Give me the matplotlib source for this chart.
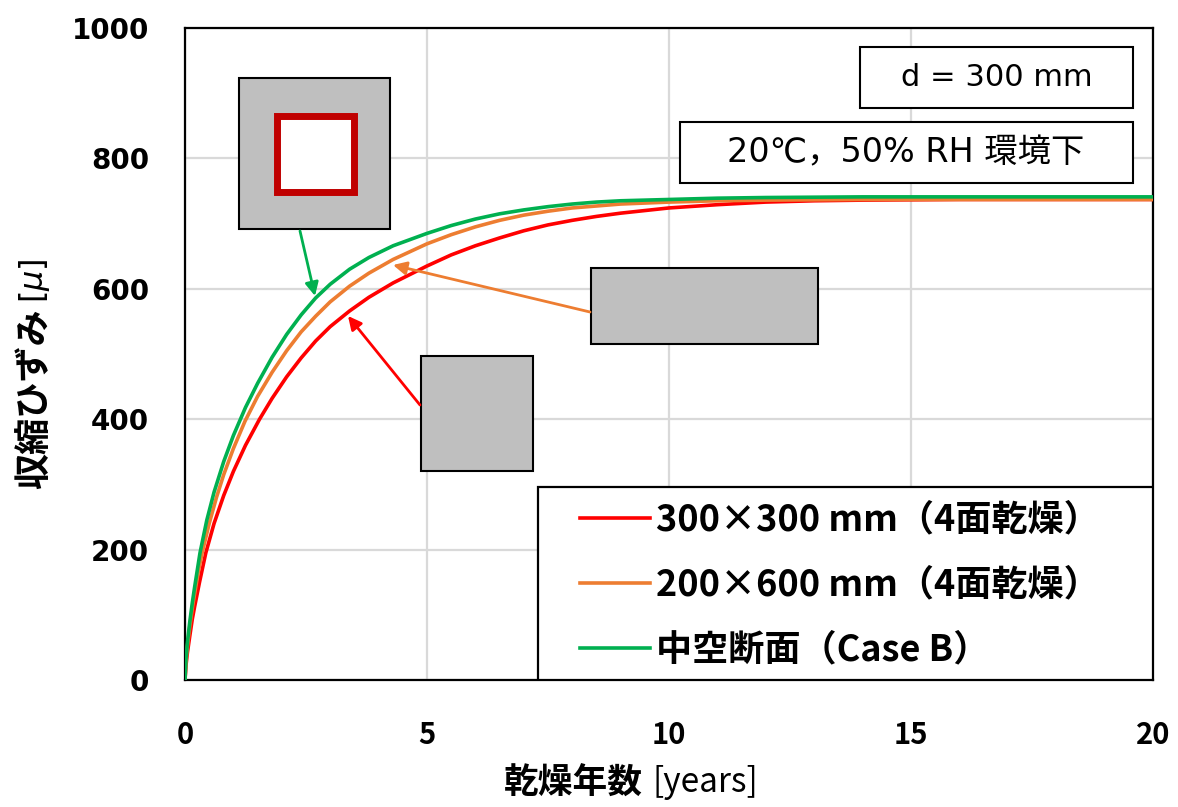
import matplotlib
matplotlib.use("Agg")
import matplotlib.pyplot as plt
from matplotlib.patches import Rectangle

plt.rcParams['font.family'] = ['DejaVu Sans', 'Noto Sans CJK JP']

# 乾燥収縮ひずみの経時変化 (d = 300 mm)
t_red = [0, 0.02, 0.05, 0.1, 0.15, 0.2, 0.3, 0.43, 0.6, 0.8, 1.0, 1.25, 1.54,
         1.8, 2.1, 2.4, 2.7, 3.0, 3.4, 3.8, 4.3, 5.0, 5.5, 6.0, 6.5, 7.0, 7.5,
         8.0, 8.5, 9.0, 10.0, 11.0, 12.0, 13.0, 14.0, 16.0, 20.0]
eps_red = [0, 22, 42, 68, 93, 113, 150, 195, 240, 283, 320, 360, 400,
           432, 465, 494, 520, 542, 566, 587, 609, 635, 652, 666, 678, 689, 698,
           705, 711, 716, 724, 729, 733, 735, 736, 737, 737]

t_orange = [0, 0.02, 0.05, 0.1, 0.15, 0.2, 0.28, 0.36, 0.5, 0.65, 0.8, 1.0,
            1.24, 1.5, 1.8, 2.1, 2.4, 2.7, 3.0, 3.4, 3.8, 4.3, 5.0, 5.5, 6.0,
            6.5, 7.0, 7.5, 8.0, 8.5, 9.0, 10.0, 11.0, 12.0, 14.0, 20.0]
eps_orange = [0, 28, 52, 83, 110, 133, 168, 197, 240, 280, 315, 355,
              397, 435, 472, 505, 534, 558, 580, 604, 624, 645, 669, 683, 695,
              705, 713, 719, 724, 727, 730, 733, 735, 736, 737, 737]

t_green = [0, 0.02, 0.05, 0.1, 0.15, 0.2, 0.31, 0.45, 0.6, 0.8, 1.0, 1.25,
           1.5, 1.8, 2.1, 2.4, 2.7, 3.0, 3.4, 3.8, 4.3, 5.0, 5.5, 6.0, 6.5,
           7.0, 7.5, 8.0, 8.5, 9.0, 10.0, 11.0, 12.0, 14.0, 20.0]
eps_green = [0, 32, 58, 90, 118, 143, 195, 245, 288, 335, 375, 418,
             455, 495, 530, 560, 586, 607, 630, 648, 666, 685, 697, 707, 715,
             721, 726, 730, 733, 735, 737, 739, 740, 741, 741]

labels = ['300\u00d7300 mm\uff084面乾燥\uff09',
          '200\u00d7600 mm\uff084面乾燥\uff09',
          '中空断面\uff08Case B\uff09']
colors = ['#FF0000', '#ED7D31', '#00B050']

fig = plt.figure(figsize=(11.78, 8.07), dpi=100)
ax = fig.add_axes([185 / 1178, 1 - 680 / 807, 968 / 1178, 652 / 807])

lines = []
for t, e, c, lab in zip([t_red, t_orange, t_green],
                        [eps_red, eps_orange, eps_green], colors, labels):
    ln, = ax.plot(t, e, color=c, lw=2.6, label=lab, zorder=3,
                  solid_joinstyle='round')
    lines.append(ln)

ax.set_xlim(0, 20)
ax.set_ylim(0, 1000)
ax.set_xticks([0, 5, 10, 15, 20])
ax.set_yticks(range(0, 1001, 200))
ax.grid(True, color='#D9D9D9', lw=1.6, zorder=0)
ax.set_axisbelow(True)
for s in ax.spines.values():
    s.set_color('black')
    s.set_linewidth(1.6)
ax.tick_params(length=0)
ax.tick_params(axis='y', pad=26)
ax.tick_params(axis='x', pad=29)
for lbl in ax.get_yticklabels():
    lbl.set_fontsize(20)
    lbl.set_fontweight('bold')
    lbl.set_family('DejaVu Sans')
for lbl in ax.get_xticklabels():
    lbl.set_fontsize(21)
    lbl.set_fontweight('bold')
    lbl.set_family('Noto Sans CJK JP')

# 軸ラベル
fig.text(643 / 1178, 1 - 783 / 807, '乾燥年数', ha='right', va='center',
         fontsize=25, fontweight='bold', family='Noto Sans CJK JP')
fig.text(653 / 1178, 1 - 783 / 807, '[years]', ha='left', va='center',
         fontsize=24, family='Noto Sans CJK JP')
fig.text(35 / 1178, 1 - 308 / 807, '収縮ひずみ', ha='center', va='top',
         rotation=90, fontsize=26, fontweight='bold', family='Noto Sans CJK JP')
fig.text(35 / 1178, 1 - 303 / 807, r'[$\mu$]', ha='center', va='bottom',
         rotation=90, fontsize=23, family='DejaVu Sans')

# 断面の模式図
ax.add_patch(Rectangle((1.116, 691.7), 3.12, 231.6, fc='#BFBFBF', ec='black',
                       lw=1.5, zorder=4))
ax.add_patch(Rectangle((1.897, 747.7), 1.599, 117.0, fc='white', ec='#C00000',
                       lw=5, joinstyle='miter', zorder=5))
ax.add_patch(Rectangle((8.388, 515.3), 4.69, 116.6, fc='#BFBFBF', ec='black',
                       lw=1.5, zorder=4))
ax.add_patch(Rectangle((4.876, 320.6), 2.314, 176.3, fc='#BFBFBF', ec='black',
                       lw=1.5, zorder=4))

arrows = [((2.376, 688.7), (2.686, 589.0), colors[2]),
          ((8.368, 564.4), (4.298, 636.5), colors[1]),
          ((4.855, 421.8), (3.368, 558.3), colors[0])]
for tail, tip, c in arrows:
    ax.annotate('', xy=tip, xytext=tail, zorder=6,
                arrowprops=dict(arrowstyle='-|>', color=c, lw=2,
                                mutation_scale=20, shrinkA=0, shrinkB=0))

# 条件の注記
ax.add_patch(Rectangle((13.946, 877.3), 5.641, 93.6, fc='white', ec='black',
                       lw=1.5, zorder=4))
ax.text(16.77, 924.1, 'd = 300 mm', ha='center', va='center', fontsize=22,
        family=['DejaVu Sans', 'Noto Sans CJK JP'], zorder=5)
ax.add_patch(Rectangle((10.227, 762.3), 9.36, 93.5, fc='white', ec='black',
                       lw=1.5, zorder=4))
ax.text(14.9, 809, '20\u2103\uff0c50% RH 環境下', ha='center', va='center',
        fontsize=24, family=['DejaVu Sans', 'Noto Sans CJK JP'], zorder=5)

# 凡例
ax.add_patch(Rectangle((7.293, 0), 12.707, 296, fc='white', ec='black',
                       lw=1.6, zorder=4))
leg = ax.legend(handles=lines, loc='upper left', frameon=False,
                bbox_to_anchor=(8.161, 274), bbox_transform=ax.transData,
                borderpad=0, borderaxespad=0, handlelength=1.95,
                handletextpad=0.15, labelspacing=0.78,
                prop=dict(family='Noto Sans CJK JP', weight='bold', size=26))
leg.set_zorder(6)

fig.savefig('out.png', dpi=100)
